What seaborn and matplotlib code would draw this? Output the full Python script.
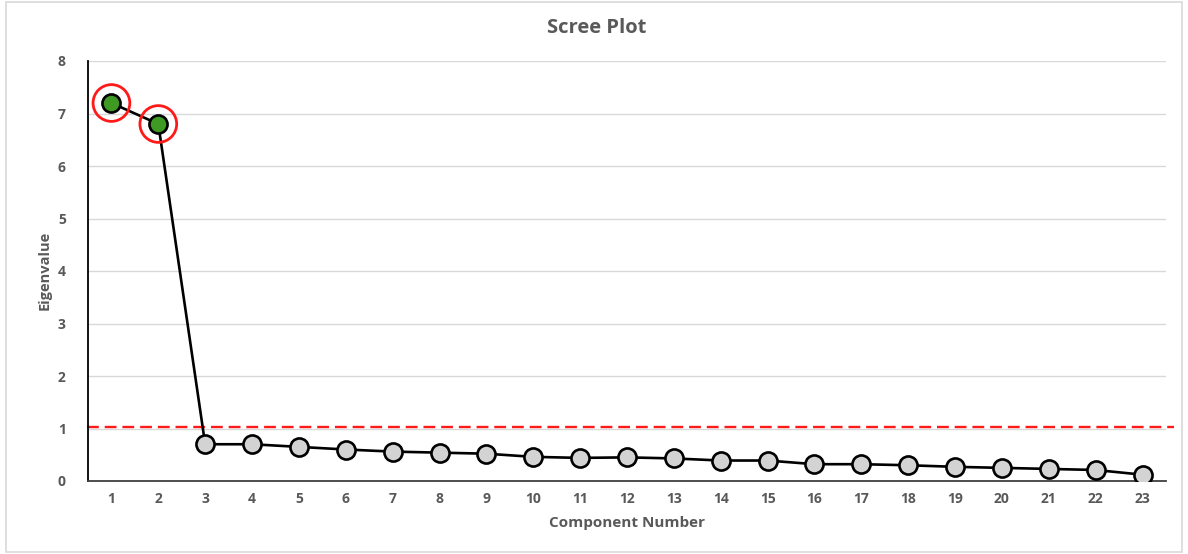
import matplotlib
matplotlib.use("Agg")
import matplotlib.pyplot as plt
import seaborn as sns
import pandas as pd
from matplotlib.patches import Rectangle

components = list(range(1, 24))
eigenvalues = [7.20, 6.80, 0.70, 0.70, 0.65, 0.60, 0.56, 0.54, 0.52, 0.46, 0.44, 0.45,
               0.43, 0.39, 0.39, 0.32, 0.32, 0.30, 0.27, 0.25, 0.23, 0.21, 0.12]
n_retained = 2
threshold = 1.03
title = "Scree Plot"
xlabel = "Component Number"
ylabel = "Eigenvalue"

df = pd.DataFrame({"component": components, "eigenvalue": eigenvalues})
df["retained"] = df["component"] <= n_retained

sns.set_theme(style="white")
plt.rcParams["font.family"] = ["Open Sans", "DejaVu Sans"]

fig = plt.figure(figsize=(11.88, 5.54), dpi=100)
ax = fig.add_axes([88/1188, 1-481/554, (1166-88)/1188, (481-61)/554])

gray_text = "#595959"

sns.lineplot(data=df, x="component", y="eigenvalue", color="black", linewidth=1.9,
             ax=ax, zorder=3)
sns.scatterplot(data=df[~df["retained"]], x="component", y="eigenvalue", color="#d3d3d3",
                edgecolor="black", linewidth=1.9, s=170, ax=ax, zorder=4)
sns.scatterplot(data=df[df["retained"]], x="component", y="eigenvalue", color="#3f9a23",
                edgecolor="black", linewidth=1.9, s=170, ax=ax, zorder=4)
sns.scatterplot(data=df[df["retained"]], x="component", y="eigenvalue", facecolor="none",
                edgecolor="#ff1a1a", linewidth=2.0, s=700, ax=ax, zorder=5)

ax.plot([0.48, 23.68], [threshold, threshold], color="#ff1a1a", linestyle=(0, (5, 2.5)),
        linewidth=1.7, clip_on=False, zorder=2)

ax.set_xlim(0.5, 23.5)
ax.set_ylim(0, 8)
ax.set_xticks(components)
ax.set_yticks(range(0, 9))
ax.grid(axis="y", color="#d9d9d9", linewidth=1)
ax.grid(axis="x", visible=False)
for s in ["top", "right"]:
    ax.spines[s].set_visible(False)
ax.spines["left"].set_color("black")
ax.spines["left"].set_linewidth(1.3)
ax.spines["bottom"].set_color("#404040")
ax.spines["bottom"].set_linewidth(1.3)
ax.tick_params(axis="both", length=0, labelsize=10, labelcolor=gray_text)
ax.tick_params(axis="x", pad=8)
ax.tick_params(axis="y", pad=16)
for lbl in ax.get_xticklabels() + ax.get_yticklabels():
    lbl.set_fontweight("bold")

ax.set_xlabel("")
ax.set_ylabel("")
fig.text(0.5 * (88 + 1166) / 1188, 1 - 523/554, xlabel, ha="center", va="center",
         fontsize=11, fontweight="bold", color=gray_text)
fig.text(45/1188, 1 - 270/554, ylabel, ha="center", va="center", rotation=90,
         fontsize=10.5, fontweight="bold", color=gray_text)
fig.text(597/1188, 1 - 28/554, title, ha="center", va="center",
         fontsize=14.5, fontweight="bold", color=gray_text)

fig.patches.append(Rectangle((6/1188, 2/554), 1176/1188, 550/554, transform=fig.transFigure,
                             fill=False, edgecolor="#d9d9d9", linewidth=1.2))

fig.savefig("out.png", dpi=100)
